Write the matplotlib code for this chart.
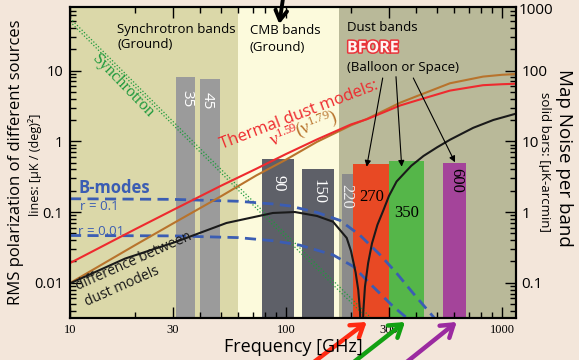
import matplotlib.pyplot as plt
import matplotlib.patheffects as pe
from matplotlib.ticker import FixedLocator, FixedFormatter, LogLocator, NullFormatter

plt.rcParams['font.family'] = ['Open Sans', 'DejaVu Sans']

W, H = 579, 360

# observing bands -> map noise [uK-arcmin] on the right axis
band_names = ['35', '45', '90', '150', '220', '270', '350', '600']
band_lo = [31.1, 40.0, 77.4, 119, 181.5, 205, 300, 533]
band_hi = [38.1, 49.4, 109, 167, 205, 300, 435, 681]
band_noise = [81, 76, 5.7, 4.1, 3.4, 4.8, 5.2, 5.0]
band_colors = ['#9b9b9b', '#9b9b9b', '#5e6068', '#5e6068', '#8b8b8b',
               '#e84924', '#55b649', '#a4449a']

# background regions (GHz)
region_edges = [10, 60, 175, 1157]
region_colors = ['#dbd8a9', '#fcfadc', '#b9b999']

# thermal dust models [uK/deg^2]
freq_dust = [10, 20, 30, 50, 73, 100, 139, 200, 237, 300, 337, 400, 574, 817, 1000, 1157]
dust_159 = [0.019, 0.057, 0.107, 0.235, 0.41, 0.66, 1.06, 1.73, 2.05, 2.76, 3.2, 3.75, 5.2, 6.2, 6.4, 6.5]
dust_179 = [0.0099, 0.034, 0.069, 0.167, 0.33, 0.55, 0.98, 1.68, 2.07, 2.94, 3.5, 4.3, 6.6, 8.2, 8.7, 8.9]

# difference between dust models
freq_diff = [10, 18, 31, 53, 87, 110, 139, 165, 191, 200, 210, 216, 220, 224,
             228, 232, 240, 250, 265, 282, 300, 325, 380, 433, 500, 574, 736, 912, 1157]
dust_diff = [0.0098, 0.022, 0.038, 0.070, 0.097, 0.100, 0.088, 0.073, 0.043, 0.028, 0.014, 0.0079, 0.004, 0.0005,
             0.004, 0.0088, 0.019, 0.036, 0.066, 0.105, 0.17, 0.27, 0.45, 0.62, 0.82, 1.05, 1.55, 2.0, 2.45]

# B-modes
freq_r01 = [10, 30, 60, 87, 104, 140, 178, 220, 272, 325, 388, 481, 530]
bmode_r01 = [0.154, 0.151, 0.142, 0.130, 0.122, 0.098, 0.076, 0.047, 0.025, 0.0137, 0.0071, 0.0033, 0.0022]
freq_r001 = [10, 30, 60, 87, 104, 116, 165, 205, 253, 314, 362, 410]
bmode_r001 = [0.0466, 0.046, 0.0435, 0.0393, 0.036, 0.034, 0.0248, 0.017, 0.0088, 0.0046, 0.0032, 0.0021]

# synchrotron (two models)
freq_sync = [10, 30, 57, 116, 250]
sync_a = [55, 1.9, 0.27, 0.031, 0.0031]
sync_b = [49, 1.7, 0.24, 0.027, 0.0027]

ylo, yhi = 0.00318, 78.2


def P(x, y):
    # pixel position measured from the top-left corner -> figure fraction
    return x / W, 1 - y / H


fig = plt.figure(figsize=(W / 100, H / 100), dpi=100, facecolor='#f3e6da')
ax = fig.add_axes([70 / W, 1 - 318 / H, (515.7 - 70) / W, (318 - 7.3) / H])
ax2 = ax.twinx()
ax.set_zorder(ax2.get_zorder() + 1)
ax.patch.set_visible(False)

ax.set_xscale('log')
ax.set_yscale('log')
ax2.set_yscale('log')
ax.set_xlim(10, 1157)
ax.set_ylim(ylo, yhi)
ax2.set_ylim(ylo * 10, yhi * 10)

for i, c in enumerate(region_colors):
    ax2.axvspan(region_edges[i], region_edges[i + 1], color=c, lw=0, zorder=0)

widths = [h - l for l, h in zip(band_lo, band_hi)]
ax2.bar(band_lo, band_noise, width=widths, align='edge', bottom=1e-4,
        color=band_colors, lw=0, zorder=2)

# lines
ax.plot(freq_sync, sync_a, ':', color='#1f9a3d', lw=0.9)
ax.plot(freq_sync, sync_b, ':', color='#1f9a3d', lw=0.9)
ax.plot(freq_r01, bmode_r01, '--', color='#3b5db3', lw=2, dashes=(4, 2.3))
ax.plot(freq_r001, bmode_r001, '--', color='#3b5db3', lw=2, dashes=(4, 2.3))
ax.plot(freq_dust, dust_179, color='#b8732c', lw=1.5)
ax.plot(freq_dust, dust_159, color='#ee2a2e', lw=1.5)
ax.plot(freq_diff, dust_diff, color='#1a1a1a', lw=1.5)

# ticks
ax.xaxis.set_major_locator(FixedLocator([10, 30, 100, 300, 1000]))
ax.xaxis.set_major_formatter(FixedFormatter(['10', '30', '100', '300', '1000']))
ax.xaxis.set_minor_locator(LogLocator(subs=range(2, 10)))
ax.xaxis.set_minor_formatter(NullFormatter())
ax.yaxis.set_major_locator(FixedLocator([0.01, 0.1, 1, 10]))
ax.yaxis.set_major_formatter(FixedFormatter(['0.01', '0.1', '1', '10']))
ax.yaxis.set_minor_locator(LogLocator(subs=range(2, 10)))
ax.yaxis.set_minor_formatter(NullFormatter())
ax2.yaxis.set_major_locator(FixedLocator([0.1, 1, 10, 100]))
ax2.yaxis.set_major_formatter(FixedFormatter(['0.1', '1', '10', '100']))
ax2.yaxis.set_minor_locator(LogLocator(subs=range(2, 10)))
ax2.yaxis.set_minor_formatter(NullFormatter())

ax.tick_params(which='both', direction='in', top=True, right=False, width=1, color='black')
ax.tick_params(which='major', length=8)
ax.tick_params(which='minor', length=4)
ax.tick_params(axis='y', labelsize=10.5, pad=5)
ax.tick_params(axis='x', labelsize=9, pad=4)
ax2.tick_params(which='both', direction='in', width=1)
ax2.tick_params(which='major', length=8, labelsize=11, pad=4)
ax2.tick_params(which='minor', length=4)
for lab in ax.get_xticklabels():
    lab.set_fontfamily('Liberation Serif')
for a in (ax, ax2):
    for s in a.spines.values():
        s.set_linewidth(1.5)

# axis titles
fig.text(*P(16, 162), 'RMS polarization of different sources', rotation=90,
         ha='center', va='center', fontsize=12)
fig.text(*P(35, 165), 'lines: [μK / (deg)²]', rotation=90, ha='center', va='center', fontsize=9)
fig.text(*P(564, 158), 'Map Noise per band', rotation=-90, ha='center', va='center', fontsize=13.5)
fig.text(*P(545, 162), 'solid bars: [μK-arcmin]', rotation=-90, ha='center', va='center', fontsize=9.5)
fig.text(*P(293, 347), 'Frequency [GHz]', ha='center', va='center', fontsize=13)
fig.text(*P(519, 10), '1000', ha='left', va='center', fontsize=11)

# region headers
fig.text(*P(117, 29.5), 'Synchrotron bands', ha='left', va='center', fontsize=9.5)
fig.text(*P(117, 45), '(Ground)', ha='left', va='center', fontsize=9.5)
fig.text(*P(250, 30), 'CMB bands', ha='left', va='center', fontsize=9.5)
fig.text(*P(250, 47.5), '(Ground)', ha='left', va='center', fontsize=9.5)
fig.text(*P(347, 27.5), 'Dust bands', ha='left', va='center', fontsize=9.5)
fig.text(*P(347, 48.3), 'BFORE', ha='left', va='center', fontsize=11.5, fontweight='bold',
         color='#fff4f2', path_effects=[pe.Stroke(linewidth=2.2, foreground='#e8343a'), pe.Normal()])
fig.text(*P(347, 68), '(Balloon or Space)', ha='left', va='center', fontsize=9.5)

# curve annotations
fig.text(*P(299, 115), 'Thermal dust models:', rotation=21, rotation_mode='anchor',
         ha='center', va='center', fontsize=12, color='#ee2a2e')
fig.text(*P(285, 136), r'$\mathregular{ν^{1.59}}$', rotation=21, rotation_mode='anchor',
         ha='center', va='center', fontsize=13, color='#ee2a2e', fontfamily='Liberation Serif')
fig.text(*P(317, 124), r'$\mathregular{(ν^{1.79})}$', rotation=21, rotation_mode='anchor',
         ha='center', va='center', fontsize=13, color='#b8732c', fontfamily='Liberation Serif')
fig.text(*P(79, 188), 'B-modes', ha='left', va='center', fontsize=12, fontweight='bold', color='#3b5db3')
fig.text(*P(80, 206), 'r = 0.1', ha='left', va='center', fontsize=9.5, color='#3b5db3')
fig.text(*P(78, 231), 'r = 0.01', ha='left', va='center', fontsize=9.5, color='#3b5db3')
fig.text(*P(134, 261), 'difference between', rotation=24, rotation_mode='anchor',
         ha='center', va='center', fontsize=10, color='#1a1a1a')
fig.text(*P(122, 287), 'dust models', rotation=24, rotation_mode='anchor',
         ha='center', va='center', fontsize=10, color='#1a1a1a')
fig.text(*P(123, 86), 'Synchrotron', rotation=-46, rotation_mode='anchor',
         ha='center', va='center', fontsize=12, color='#1f9a3d', fontfamily='Liberation Serif')

# band labels
fig.text(*P(187, 99), '35', rotation=-90, ha='center', va='center', fontsize=11, color='white')
fig.text(*P(207.5, 101), '45', rotation=-90, ha='center', va='center', fontsize=11, color='white')
serif = dict(ha='center', va='center', fontfamily='Liberation Serif')
fig.text(*P(278.3, 183.3), '90', rotation=-90, fontsize=12, color='white', **serif)
fig.text(*P(318.3, 191.7), '150', rotation=-90, fontsize=12, color='white', **serif)
fig.text(*P(346.7, 196.7), '220', rotation=-90, fontsize=12, color='#eeeeee', **serif)
fig.text(*P(371.3, 196.7), '270', fontsize=12, color='black', **serif)
fig.text(*P(407, 212.8), '350', fontsize=12, color='black', **serif)
fig.text(*P(455.8, 180), '600', rotation=-90, fontsize=12, color='black', **serif)


# arrows
def arrow(tail, tip, **kw):
    ax.annotate('', xy=(tip[0], H - tip[1]), xytext=(tail[0], H - tail[1]),
                xycoords='figure pixels', textcoords='figure pixels',
                arrowprops=kw, annotation_clip=False)


thin = dict(arrowstyle='-|>', color='black', lw=0.8, mutation_scale=9, shrinkA=0, shrinkB=0)
arrow((382.7, 78), (366.7, 166.7), **thin)
arrow((396, 76.7), (401.7, 166.7), **thin)
arrow((413.3, 78), (455, 162.3), **thin)

arrow((283.5, -5), (279.3, 24), arrowstyle='->,head_length=0.5,head_width=0.3', color='black',
      lw=2.8, mutation_scale=14, shrinkA=0, shrinkB=0)
bold = dict(arrowstyle='->,head_length=0.6,head_width=0.4', lw=3.2, mutation_scale=14, shrinkA=0, shrinkB=0)
arrow((310, 365), (366.7, 322), color='#ff2a12', **bold)
arrow((350, 365), (405, 322), color='#12a012', **bold)
arrow((403, 365), (456.7, 322), color='#9b2aa0', **bold)

fig.savefig('out.png', dpi=100, facecolor=fig.get_facecolor())
